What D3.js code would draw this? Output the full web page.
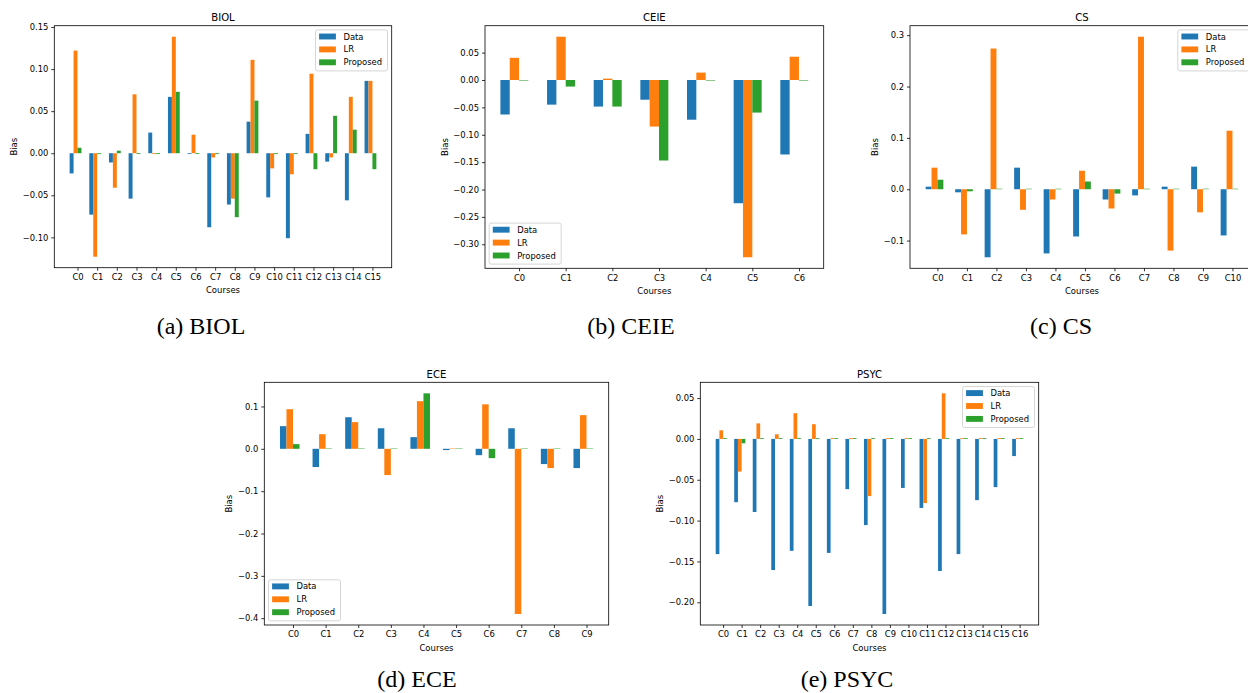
<!DOCTYPE html>
<html lang="en">
<head>
    <meta charset="UTF-8">
    <title>Bias per course</title>
    <script src="https://d3js.org/d3.v7.min.js"></script>
</head>
<style>
    body {
        margin: 0;
        padding: 0;
        background: #fff;
    }
    svg {
        display: block;
        font-family: "DejaVu Sans", sans-serif;
    }
    .caption {
        font-family: "Liberation Serif", serif;
        font-size: 24px;
    }
</style>
<body>
<div class="chart"></div>
<script>
  /** DATA */
  var seriesNames = ['Data', 'LR', 'Proposed'];
  var seriesColors = ['#1f77b4', '#ff7f0e', '#2ca02c'];

  var biolCourses = ['C0', 'C1', 'C2', 'C3', 'C4', 'C5', 'C6', 'C7', 'C8', 'C9', 'C10', 'C11', 'C12', 'C13', 'C14', 'C15'];
  var biolData = [-0.024, -0.073, -0.011, -0.054, 0.0245, 0.067, -0.001, -0.088, -0.061, 0.0375, -0.0525, -0.101, 0.023, -0.010, -0.056, 0.086];
  var biolLR = [0.122, -0.123, -0.041, 0.070, -0.001, 0.1385, 0.022, -0.005, -0.054, 0.111, -0.018, -0.025, 0.0945, -0.005, 0.067, 0.086];
  var biolProposed = [0.0065, -0.001, 0.003, -0.001, -0.001, 0.073, -0.001, -0.001, -0.076, 0.0625, -0.001, -0.001, -0.019, 0.0445, 0.028, -0.019];
  var biolTicks = [-0.10, -0.05, 0.00, 0.05, 0.10, 0.15];

  var ceieCourses = ['C0', 'C1', 'C2', 'C3', 'C4', 'C5', 'C6'];
  var ceieData = [-0.063, -0.045, -0.0485, -0.036, -0.0725, -0.225, -0.136];
  var ceieLR = [0.0405, 0.079, 0.0025, -0.085, 0.0135, -0.3237, 0.0425];
  var ceieProposed = [-0.001, -0.012, -0.0485, -0.147, -0.001, -0.0595, -0.001];
  var ceieTicks = [-0.30, -0.25, -0.20, -0.15, -0.10, -0.05, 0.00, 0.05];

  var csCourses = ['C0', 'C1', 'C2', 'C3', 'C4', 'C5', 'C6', 'C7', 'C8', 'C9', 'C10'];
  var csData = [0.005, -0.006, -0.1325, 0.042, -0.125, -0.092, -0.020, -0.012, 0.005, 0.044, -0.090];
  var csLR = [0.042, -0.088, 0.274, -0.040, -0.020, 0.036, -0.0375, 0.297, -0.1195, -0.045, 0.114];
  var csProposed = [0.0185, -0.004, 0.001, 0.001, 0.001, 0.015, -0.0085, 0.001, 0.001, 0.001, 0.001];
  var csTicks = [-0.1, 0.0, 0.1, 0.2, 0.3];

  var eceCourses = ['C0', 'C1', 'C2', 'C3', 'C4', 'C5', 'C6', 'C7', 'C8', 'C9'];
  var eceData = [0.0535, -0.043, 0.0745, 0.0485, 0.0275, -0.003, -0.015, 0.0485, -0.036, -0.0455];
  var eceLR = [0.0935, 0.0345, 0.063, -0.062, 0.1125, 0.001, 0.105, -0.390, -0.0455, 0.0795];
  var eceProposed = [0.011, 0.001, 0.001, 0.001, 0.131, 0.001, -0.022, 0.001, 0.001, 0.001];
  var eceTicks = [-0.4, -0.3, -0.2, -0.1, 0.0, 0.1];

  var psycCourses = ['C0', 'C1', 'C2', 'C3', 'C4', 'C5', 'C6', 'C7', 'C8', 'C9', 'C10', 'C11', 'C12', 'C13', 'C14', 'C15', 'C16'];
  var psycData = [-0.141, -0.0775, -0.0895, -0.1605, -0.137, -0.2045, -0.1395, -0.0615, -0.1055, -0.2143, -0.060, -0.0845, -0.1617, -0.141, -0.075, -0.059, -0.021];
  var psycLR = [0.0105, -0.040, 0.019, 0.0057, 0.0315, 0.018, 0.001, 0.001, -0.070, 0.001, 0.001, -0.0785, 0.0558, 0.001, 0.001, 0.001, 0.001];
  var psycProposed = [0.001, -0.0053, 0.001, 0.001, 0.001, 0.001, 0.001, 0.001, 0.001, 0.001, 0.001, 0.001, 0.001, 0.001, 0.001, 0.001, 0.001];
  var psycTicks = [-0.20, -0.15, -0.10, -0.05, 0.00, 0.05];

  /** LAYOUT: frame of each axes, legend corner and caption */
  var panels = [
    {title: 'BIOL', caption: '(a) BIOL', courses: biolCourses, values: [biolData, biolLR, biolProposed], ticks: biolTicks, fmt: '.2f',
      left: 54.3, top: 25.7, right: 391.7, bottom: 267.7, legend: 'upper right', capX: 201, capY: 334},
    {title: 'CEIE', caption: '(b) CEIE', courses: ceieCourses, values: [ceieData, ceieLR, ceieProposed], ticks: ceieTicks, fmt: '.2f',
      left: 485, top: 25.7, right: 823.7, bottom: 268.3, legend: 'lower left', capX: 631, capY: 334},
    {title: 'CS', caption: '(c) CS', courses: csCourses, values: [csData, csLR, csProposed], ticks: csTicks, fmt: '.1f',
      left: 910, top: 25.7, right: 1254, bottom: 268.3, legend: 'upper right', capX: 1061, capY: 334},
    {title: 'ECE', caption: '(d) ECE', courses: eceCourses, values: [eceData, eceLR, eceProposed], ticks: eceTicks, fmt: '.1f',
      left: 264.3, top: 382.3, right: 608.7, bottom: 625, legend: 'lower left', capX: 417, capY: 687},
    {title: 'PSYC', caption: '(e) PSYC', courses: psycCourses, values: [psycData, psycLR, psycProposed], ticks: psycTicks, fmt: '.2f',
      left: 700.3, top: 382.3, right: 1038.7, bottom: 625, legend: 'upper right', capX: 847, capY: 687}
  ];

  var barWidth = 0.2;
  var tickFont = 8.4;

  var svg_selection = d3.select('.chart')
    .append('svg')
    .attr('width', 1248)
    .attr('height', 693);

  svg_selection.append('rect')
    .attr('width', 1248).attr('height', 693).attr('fill', '#fff');

  panels.forEach(drawPanel);

  /** FUNCTIONS **/
  function drawPanel(p) {
    var n = p.courses.length;
    // matplotlib-like autoscale: bars span [-0.4, n-1+0.2], 5% margins
    var span = n - 0.4;
    var x = d3.scaleLinear()
      .domain([-0.4 - 0.05 * span, n - 0.8 + 0.05 * span])
      .range([p.left, p.right]);

    var all = d3.merge(p.values);
    var yMin = Math.min(0, d3.min(all)), yMax = Math.max(0, d3.max(all));
    var ySpan = yMax - yMin;
    var y = d3.scaleLinear()
      .domain([yMin - 0.05 * ySpan, yMax + 0.05 * ySpan])
      .range([p.bottom, p.top]);

    var g = svg_selection.append('g').classed('panel', true);

    /** bars */
    p.values.forEach(function (vals, k) {
      g.append('g')
        .selectAll('rect')
        .data(vals)
        .enter().append('rect')
        .attr('x', function (_, i) { return x(i + (k - 2) * barWidth); })
        .attr('width', function (_, i) { return x(i + (k - 1) * barWidth) - x(i + (k - 2) * barWidth); })
        .attr('y', function (d) { return y(Math.max(0, d)); })
        .attr('height', function (d) { return Math.abs(y(d) - y(0)); })
        .attr('fill', seriesColors[k]);
    });

    /** axes */
    var xAxis = d3.axisBottom(x)
      .tickValues(d3.range(n))
      .tickFormat(function (i) { return p.courses[i]; })
      .tickSize(3)
      .tickPadding(3.5);
    var xg = g.append('g')
      .attr('transform', 'translate(0,' + p.bottom + ')')
      .call(xAxis);

    var yAxis = d3.axisLeft(y)
      .tickValues(p.ticks)
      .tickFormat(d3.format(p.fmt))
      .tickSize(3)
      .tickPadding(3);
    var yg = g.append('g')
      .attr('transform', 'translate(' + p.left + ',0)')
      .call(yAxis);

    [xg, yg].forEach(function (ax) {
      ax.select('.domain').remove();
      ax.selectAll('.tick line').attr('stroke', '#000').attr('stroke-width', 0.8);
      ax.selectAll('.tick text')
        .attr('fill', '#000')
        .style('font-size', tickFont + 'px')
        .style('font-family', '"DejaVu Sans", sans-serif');
    });

    /** frame */
    g.append('rect')
      .attr('x', p.left).attr('y', p.top)
      .attr('width', p.right - p.left).attr('height', p.bottom - p.top)
      .attr('fill', 'none')
      .attr('stroke', '#000')
      .attr('stroke-width', 0.8);

    /** title and axis labels */
    g.append('text')
      .attr('x', (p.left + p.right) / 2)
      .attr('y', p.top - 4.6)
      .attr('text-anchor', 'middle')
      .style('font-size', '10.1px')
      .text(p.title);

    g.append('text')
      .attr('x', (p.left + p.right) / 2)
      .attr('y', p.bottom + 25.6)
      .attr('text-anchor', 'middle')
      .style('font-size', '8.5px')
      .text('Courses');

    // getBBox is in the axis group's own coordinates, so add its offset back
    var tickBox = yg.node().getBBox();
    var labelX = p.left + tickBox.x - 5.5;
    g.append('text')
      .attr('transform', 'translate(' + labelX + ',' + ((p.top + p.bottom) / 2) + ') rotate(-90)')
      .attr('text-anchor', 'middle')
      .style('font-size', '8.5px')
      .text('Bias');

    drawLegend(g, p);

    /** caption under the panel */
    svg_selection.append('text')
      .classed('caption', true)
      .attr('x', p.capX)
      .attr('y', p.capY)
      .attr('text-anchor', 'middle')
      .text(p.caption);
  }

  function drawLegend(g, p) {
    var boxW = 72, boxH = 41, pad = 4.2;
    var bx = p.legend === 'upper right' ? p.right - pad - boxW : p.left + pad;
    var by = p.legend === 'upper right' ? p.top + pad : p.bottom - pad - boxH;

    var legend_selection = g.append('g')
      .classed('legend_group', true)
      .attr('transform', 'translate(' + bx + ',' + by + ')');

    legend_selection.append('rect')
      .attr('width', boxW).attr('height', boxH)
      .attr('rx', 2)
      .attr('fill', '#fff').attr('fill-opacity', 0.8)
      .attr('stroke', '#cccccc').attr('stroke-width', 0.8);

    var item = legend_selection.selectAll('g.legend_item')
      .data(seriesNames)
      .enter().append('g')
      .classed('legend_item', true)
      .attr('transform', function (_, i) { return 'translate(0,' + (6.6 + i * 12.9) + ')'; });

    item.append('rect')
      .attr('x', 3.6).attr('y', -2.95)
      .attr('width', 16.8).attr('height', 5.9)
      .attr('fill', function (_, i) { return seriesColors[i]; });

    item.append('text')
      .attr('x', 28)
      .attr('dy', '0.36em')
      .style('font-size', tickFont + 'px')
      .text(function (d) { return d; });
  }
</script>
</body>
</html>
